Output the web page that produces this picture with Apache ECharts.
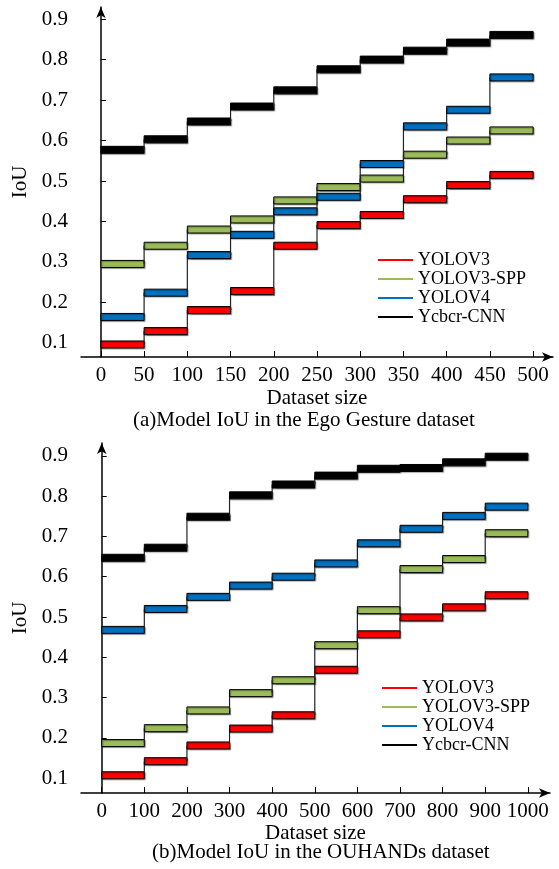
<!DOCTYPE html>
<html>
<head>
<meta charset="utf-8">
<script src="https://cdn.jsdelivr.net/npm/echarts@6/dist/echarts.min.js"></script>
<style>
html, body { margin: 0; padding: 0; background: #fff; }
#chart { width: 559px; height: 869px; }
</style>
</head>
<body>
<div id="chart"></div>
<script>
// 数据
var names = ['YOLOV3', 'YOLOV3-SPP', 'YOLOV4', 'Ycbcr-CNN'];
var colors = ['#ff0000', '#9bbb59', '#0070c0', '#000000'];

// (a) Ego Gesture
var sizesA = [0, 50, 100, 150, 200, 250, 300, 350, 400, 450, 500];
var yolov3A = [0.096, 0.129, 0.181, 0.228, 0.34, 0.391, 0.416, 0.455, 0.49, 0.515];
var yolov3sppA = [0.295, 0.34, 0.38, 0.405, 0.452, 0.485, 0.506, 0.565, 0.6, 0.625];
var yolov4A = [0.164, 0.224, 0.317, 0.367, 0.425, 0.461, 0.542, 0.635, 0.676, 0.756];
var ycbcrA = [0.577, 0.603, 0.647, 0.684, 0.724, 0.776, 0.8, 0.822, 0.842, 0.861];

// (b) OUHANDs
var sizesB = [0, 100, 200, 300, 400, 500, 600, 700, 800, 900, 1000];
var yolov3B = [0.107, 0.142, 0.181, 0.223, 0.256, 0.369, 0.457, 0.499, 0.524, 0.554];
var yolov3sppB = [0.187, 0.224, 0.268, 0.311, 0.343, 0.43, 0.517, 0.619, 0.644, 0.708];
var yolov4B = [0.468, 0.52, 0.55, 0.578, 0.6, 0.633, 0.683, 0.719, 0.751, 0.774];
var ycbcrB = [0.647, 0.672, 0.749, 0.802, 0.829, 0.851, 0.868, 0.87, 0.884, 0.898];

var yTicks = [0.1, 0.2, 0.3, 0.4, 0.5, 0.6, 0.7, 0.8, 0.9];
var captionA = '(a)Model IoU in the Ego Gesture dataset';
var captionB = '(b)Model IoU in the OUHANDs dataset';

var font = '"Liberation Serif", "Times New Roman", serif';

// 阶梯段: [x起点, x终点, 值, 前一个值]
function stepData(xs, vals) {
    var out = [];
    for (var i = 0; i < vals.length; i++) {
        out.push([xs[i], xs[i + 1], vals[i], i > 0 ? vals[i - 1] : vals[i]]);
    }
    return out;
}

function renderStep(params, api) {
    var x0 = api.value(0), x1 = api.value(1), v = api.value(2), pv = api.value(3);
    var p0 = api.coord([x0, v]);
    var p1 = api.coord([x1, v]);
    var pp = api.coord([x0, pv]);
    var h = 7;
    var children = [];
    if (params.dataIndex > 0) {
        children.push({
            type: 'line',
            shape: { x1: p0[0], y1: pp[1], x2: p0[0], y2: p0[1] },
            style: { stroke: '#222', lineWidth: 1.2 }
        });
    }
    children.push({
        type: 'rect',
        shape: { x: p0[0], y: p0[1] - h / 2, width: p1[0] - p0[0], height: h },
        style: {
            fill: api.visual('color'), stroke: '#000', lineWidth: 1,
            shadowBlur: 1, shadowOffsetX: 1, shadowOffsetY: 1, shadowColor: 'rgba(0,0,0,0.35)'
        }
    });
    return { type: 'group', children: children };
}

function makeSeries(idx, xs, lists) {
    return lists.map(function (vals, k) {
        return {
            name: names[k],
            type: 'custom',
            xAxisIndex: idx,
            yAxisIndex: idx,
            itemStyle: { color: colors[k] },
            renderItem: renderStep,
            encode: { x: [0, 1], y: [2, 3] },
            data: stepData(xs, vals),
            z: 2 + k
        };
    });
}

function makeXAxis(idx, min, max, ticks, gap) {
    return {
        type: 'value', gridIndex: idx, min: min, max: max,
        name: 'Dataset size', nameLocation: 'middle', nameGap: gap,
        nameTextStyle: { fontFamily: font, fontSize: 21, color: '#000' },
        axisLine: { lineStyle: { color: '#000', width: 1.5 }, symbol: ['none', 'arrow'], symbolSize: [7, 11] },
        axisTick: { inside: true, length: 6, lineStyle: { color: '#000' }, customValues: ticks },
        axisLabel: {
            fontFamily: font, fontSize: 21, color: '#000', margin: 8, customValues: ticks,
            formatter: function (v) { return String(v); }
        },
        splitLine: { show: false }
    };
}

function makeYAxis(idx, min, max) {
    return {
        type: 'value', gridIndex: idx, min: min, max: max,
        name: 'IoU', nameLocation: 'middle', nameGap: 46,
        nameTextStyle: { fontFamily: font, fontSize: 21, color: '#000' },
        axisLine: { show: true, lineStyle: { color: '#000', width: 1.5 }, symbol: ['none', 'arrow'], symbolSize: [7, 11] },
        axisTick: { show: true, inside: true, length: 5, lineStyle: { color: '#000' }, customValues: yTicks },
        axisLabel: {
            fontFamily: font, fontSize: 21, color: '#000', margin: 13, customValues: yTicks,
            formatter: function (v) { return v.toFixed(1); }
        },
        splitLine: { show: false }
    };
}

function makeLegend(left, top) {
    return {
        orient: 'vertical', left: left, top: top,
        data: names, icon: 'rect', itemWidth: 35, itemHeight: 2, itemGap: 1,
        selectedMode: false,
        textStyle: { fontFamily: font, fontSize: 18, color: '#000', lineHeight: 18 }
    };
}

var myChart = echarts.init(document.getElementById('chart'));
var option = {
    backgroundColor: '#fff',
    animation: false,
    title: [
        { text: captionA, left: 128, top: 405, textStyle: { fontFamily: font, fontSize: 21, fontWeight: 'normal', color: '#000' } },
        { text: captionB, left: 147, top: 837, textStyle: { fontFamily: font, fontSize: 21, fontWeight: 'normal', color: '#000' } }
    ],
    legend: [makeLegend(373, 246), makeLegend(377, 674)],
    grid: [
        { left: 81, top: 7, width: 472, height: 350 },
        { left: 81, top: 443, width: 469, height: 350 }
    ],
    xAxis: [
        makeXAxis(0, -23, 523, sizesA, 31),
        makeXAxis(1, -48.6, 1052, sizesB, 27)
    ],
    yAxis: [
        makeYAxis(0, 0.065, 0.93),
        makeYAxis(1, 0.063, 0.932)
    ],
    series: makeSeries(0, sizesA, [yolov3A, yolov3sppA, yolov4A, ycbcrA])
        .concat(makeSeries(1, sizesB, [yolov3B, yolov3sppB, yolov4B, ycbcrB]))
};
myChart.setOption(option);
</script>
</body>
</html>
